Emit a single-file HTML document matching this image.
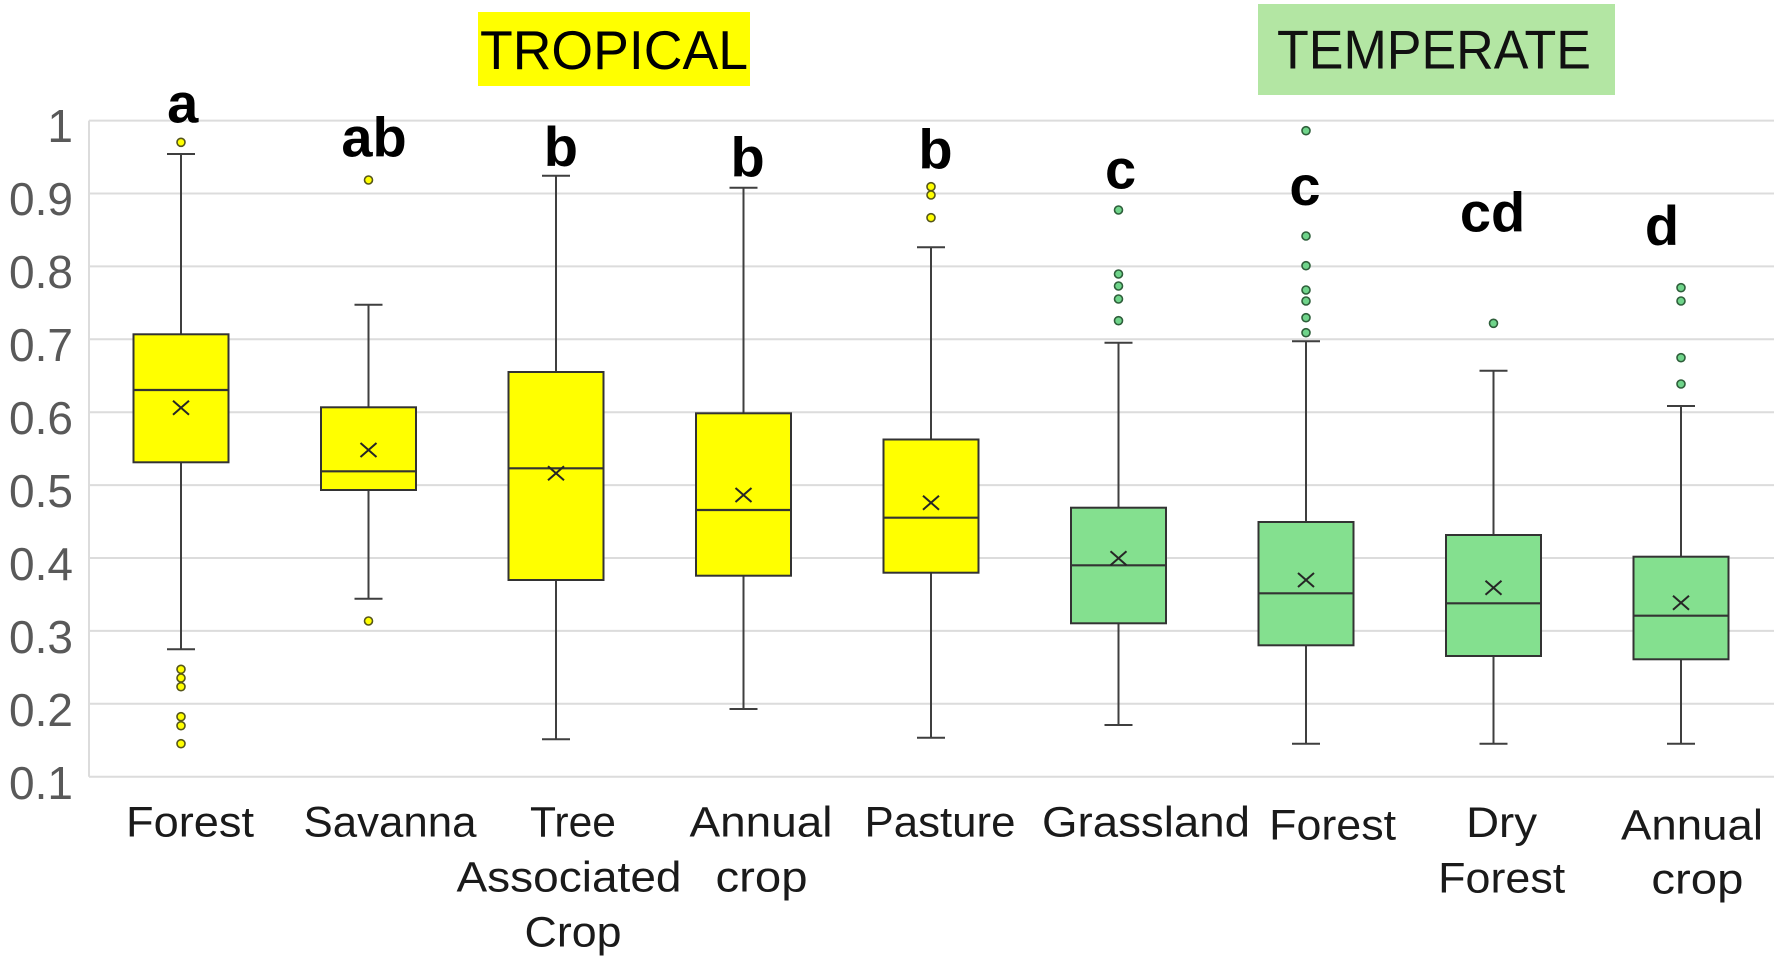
<!DOCTYPE html>
<html>
<head>
<meta charset="utf-8">
<style>
html,body{margin:0;padding:0;background:#fff;}
svg{display:block;}
text{font-family:"Liberation Sans",Arial,sans-serif;}
</style>
</head>
<body>
<svg width="1776" height="960" viewBox="0 0 1776 960" xmlns="http://www.w3.org/2000/svg">
<rect x="0" y="0" width="1776" height="960" fill="#ffffff"/>

<!-- Title boxes -->
<rect x="478" y="12" width="272" height="74" fill="#ffff00"/>
<text x="480" y="69" font-size="55" fill="#000" textLength="268" lengthAdjust="spacingAndGlyphs">TROPICAL</text>
<rect x="1258" y="4" width="357" height="91" fill="#b3e6a3"/>
<text x="1277" y="68.3" font-size="55" fill="#111" textLength="314" lengthAdjust="spacingAndGlyphs">TEMPERATE</text>

<!-- Gridlines -->
<g stroke="#dcdcdc" stroke-width="2" fill="none">
<line x1="89" y1="120.6" x2="1774" y2="120.6"/>
<line x1="89" y1="193.5" x2="1774" y2="193.5"/>
<line x1="89" y1="266.4" x2="1774" y2="266.4"/>
<line x1="89" y1="339.3" x2="1774" y2="339.3"/>
<line x1="89" y1="412.2" x2="1774" y2="412.2"/>
<line x1="89" y1="485.1" x2="1774" y2="485.1"/>
<line x1="89" y1="558" x2="1774" y2="558"/>
<line x1="89" y1="630.9" x2="1774" y2="630.9"/>
<line x1="89" y1="703.8" x2="1774" y2="703.8"/>
<line x1="89" y1="776.7" x2="1774" y2="776.7"/>
<line x1="89" y1="120.6" x2="89" y2="776.7"/>
</g>

<!-- Y tick labels -->
<g font-size="46" fill="#595959" text-anchor="end">
<text x="73" y="142">1</text>
<text x="73" y="215">0.9</text>
<text x="73" y="288">0.8</text>
<text x="73" y="361">0.7</text>
<text x="73" y="434">0.6</text>
<text x="73" y="507">0.5</text>
<text x="73" y="580">0.4</text>
<text x="73" y="653">0.3</text>
<text x="73" y="726">0.2</text>
<text x="73" y="799">0.1</text>
</g>

<!-- Whiskers -->
<g stroke="#3f3f3f" stroke-width="2" fill="none">
<!-- Forest trop -->
<line x1="181" y1="154" x2="181" y2="649.3"/><line x1="167" y1="154" x2="195" y2="154"/><line x1="167" y1="649.3" x2="195" y2="649.3"/>
<!-- Savanna -->
<line x1="368.5" y1="304.7" x2="368.5" y2="598.7"/><line x1="354.5" y1="304.7" x2="382.5" y2="304.7"/><line x1="354.5" y1="598.7" x2="382.5" y2="598.7"/>
<!-- Tree -->
<line x1="556" y1="175.7" x2="556" y2="739.3"/><line x1="542" y1="175.7" x2="570" y2="175.7"/><line x1="542" y1="739.3" x2="570" y2="739.3"/>
<!-- Annual trop -->
<line x1="743.5" y1="187.7" x2="743.5" y2="709"/><line x1="729.5" y1="187.7" x2="757.5" y2="187.7"/><line x1="729.5" y1="709" x2="757.5" y2="709"/>
<!-- Pasture -->
<line x1="931" y1="247.3" x2="931" y2="737.7"/><line x1="917" y1="247.3" x2="945" y2="247.3"/><line x1="917" y1="737.7" x2="945" y2="737.7"/>
<!-- Grassland -->
<line x1="1118.5" y1="342.7" x2="1118.5" y2="725"/><line x1="1104.5" y1="342.7" x2="1132.5" y2="342.7"/><line x1="1104.5" y1="725" x2="1132.5" y2="725"/>
<!-- Forest temp -->
<line x1="1306" y1="341.3" x2="1306" y2="743.7"/><line x1="1292" y1="341.3" x2="1320" y2="341.3"/><line x1="1292" y1="743.7" x2="1320" y2="743.7"/>
<!-- Dry -->
<line x1="1493.5" y1="370.7" x2="1493.5" y2="743.7"/><line x1="1479.5" y1="370.7" x2="1507.5" y2="370.7"/><line x1="1479.5" y1="743.7" x2="1507.5" y2="743.7"/>
<!-- Annual temp -->
<line x1="1681" y1="406" x2="1681" y2="743.7"/><line x1="1667" y1="406" x2="1695" y2="406"/><line x1="1667" y1="743.7" x2="1695" y2="743.7"/>
</g>

<!-- Boxes -->
<g stroke="#333" stroke-width="2">
<rect x="133.5" y="334.3" width="95" height="128" fill="#ffff00"/>
<rect x="321" y="407.3" width="95" height="82.7" fill="#ffff00"/>
<rect x="508.5" y="372" width="95" height="208" fill="#ffff00"/>
<rect x="696" y="413.3" width="95" height="162.4" fill="#ffff00"/>
<rect x="883.5" y="439.5" width="95" height="133.2" fill="#ffff00"/>
<rect x="1071" y="507.7" width="95" height="115.6" fill="#84e08f"/>
<rect x="1258.5" y="522" width="95" height="123.3" fill="#84e08f"/>
<rect x="1446" y="535" width="95" height="121" fill="#84e08f"/>
<rect x="1633.5" y="556.7" width="95" height="102.6" fill="#84e08f"/>
</g>

<!-- Medians -->
<g stroke="#333" stroke-width="2.2">
<line x1="133.5" y1="390" x2="228.5" y2="390"/>
<line x1="321" y1="471.3" x2="416" y2="471.3"/>
<line x1="508.5" y1="468.3" x2="603.5" y2="468.3"/>
<line x1="696" y1="510" x2="791" y2="510"/>
<line x1="883.5" y1="517.7" x2="978.5" y2="517.7"/>
<line x1="1071" y1="565.3" x2="1166" y2="565.3"/>
<line x1="1258.5" y1="593.3" x2="1353.5" y2="593.3"/>
<line x1="1446" y1="603.3" x2="1541" y2="603.3"/>
<line x1="1633.5" y1="615.7" x2="1728.5" y2="615.7"/>
</g>

<!-- Mean markers -->
<g stroke="#262626" stroke-width="2">
<path d="M173,400.7 L189,414.7 M189,400.7 L173,414.7"/>
<path d="M360.5,443 L376.5,457 M376.5,443 L360.5,457"/>
<path d="M548,466.3 L564,480.3 M564,466.3 L548,480.3"/>
<path d="M735.5,488 L751.5,502 M751.5,488 L735.5,502"/>
<path d="M923,495.7 L939,509.7 M939,495.7 L923,509.7"/>
<path d="M1110.5,551.3 L1126.5,565.3 M1126.5,551.3 L1110.5,565.3"/>
<path d="M1298,573 L1314,587 M1314,573 L1298,587"/>
<path d="M1485.5,580.7 L1501.5,594.7 M1501.5,580.7 L1485.5,594.7"/>
<path d="M1673,595.7 L1689,609.7 M1689,595.7 L1673,609.7"/>
</g>

<!-- Outliers tropical -->
<g fill="#ffff00" stroke="#55551a" stroke-width="1.6">
<circle cx="181" cy="142.3" r="4"/>
<circle cx="181" cy="669.3" r="4"/>
<circle cx="181" cy="678" r="4"/>
<circle cx="181" cy="686.7" r="4"/>
<circle cx="181" cy="716.7" r="4"/>
<circle cx="181" cy="725.7" r="4"/>
<circle cx="181" cy="743.7" r="4"/>
<circle cx="368.5" cy="180" r="4"/>
<circle cx="368.5" cy="621" r="4"/>
<circle cx="931" cy="186.7" r="4"/>
<circle cx="931" cy="195" r="4"/>
<circle cx="931" cy="217.7" r="4"/>
</g>
<!-- Outliers temperate -->
<g fill="#6fd48a" stroke="#2e5e3a" stroke-width="1.6">
<circle cx="1118.5" cy="210" r="4"/>
<circle cx="1118.5" cy="274" r="4"/>
<circle cx="1118.5" cy="286" r="4"/>
<circle cx="1118.5" cy="299" r="4"/>
<circle cx="1118.5" cy="320.7" r="4"/>
<circle cx="1306" cy="130.7" r="4"/>
<circle cx="1306" cy="236" r="4"/>
<circle cx="1306" cy="265.7" r="4"/>
<circle cx="1306" cy="290" r="4"/>
<circle cx="1306" cy="301" r="4"/>
<circle cx="1306" cy="317.7" r="4"/>
<circle cx="1306" cy="332.7" r="4"/>
<circle cx="1493.5" cy="323.3" r="4"/>
<circle cx="1681" cy="287.7" r="4"/>
<circle cx="1681" cy="301" r="4"/>
<circle cx="1681" cy="357.7" r="4"/>
<circle cx="1681" cy="384" r="4"/>
</g>

<!-- Significance letters -->
<g font-size="56" font-weight="bold" fill="#000" text-anchor="middle">
<text x="182.7" y="122.7">a</text>
<text x="374" y="156.7">ab</text>
<text x="560.8" y="166">b</text>
<text x="747.6" y="176.7">b</text>
<text x="935.5" y="168.3">b</text>
<text x="1120.6" y="188.3">c</text>
<text x="1305" y="205">c</text>
<text x="1492.5" y="231.7">cd</text>
<text x="1662" y="245">d</text>
</g>

<!-- X labels -->
<g font-size="43" fill="#1a1a1a" text-anchor="middle" lengthAdjust="spacingAndGlyphs">
<text x="190" y="836.7" textLength="128" lengthAdjust="spacingAndGlyphs">Forest</text>
<text x="390" y="836.7" textLength="173" lengthAdjust="spacingAndGlyphs">Savanna</text>
<text x="573" y="836.7" textLength="86" lengthAdjust="spacingAndGlyphs">Tree</text>
<text x="569" y="891.7" textLength="225" lengthAdjust="spacingAndGlyphs">Associated</text>
<text x="573" y="946.7" textLength="97" lengthAdjust="spacingAndGlyphs">Crop</text>
<text x="761" y="836.7" textLength="143" lengthAdjust="spacingAndGlyphs">Annual</text>
<text x="761.5" y="891.7" textLength="92" lengthAdjust="spacingAndGlyphs">crop</text>
<text x="940" y="836.7" textLength="151" lengthAdjust="spacingAndGlyphs">Pasture</text>
<text x="1146" y="836.7" textLength="208" lengthAdjust="spacingAndGlyphs">Grassland</text>
<text x="1332.6" y="839.3" textLength="127" lengthAdjust="spacingAndGlyphs">Forest</text>
<text x="1501.6" y="837" textLength="71" lengthAdjust="spacingAndGlyphs">Dry</text>
<text x="1501.7" y="892.7" textLength="127" lengthAdjust="spacingAndGlyphs">Forest</text>
<text x="1692" y="839.3" textLength="142" lengthAdjust="spacingAndGlyphs">Annual</text>
<text x="1697.4" y="893.3" textLength="92" lengthAdjust="spacingAndGlyphs">crop</text>
</g>
</svg>
</body>
</html>
